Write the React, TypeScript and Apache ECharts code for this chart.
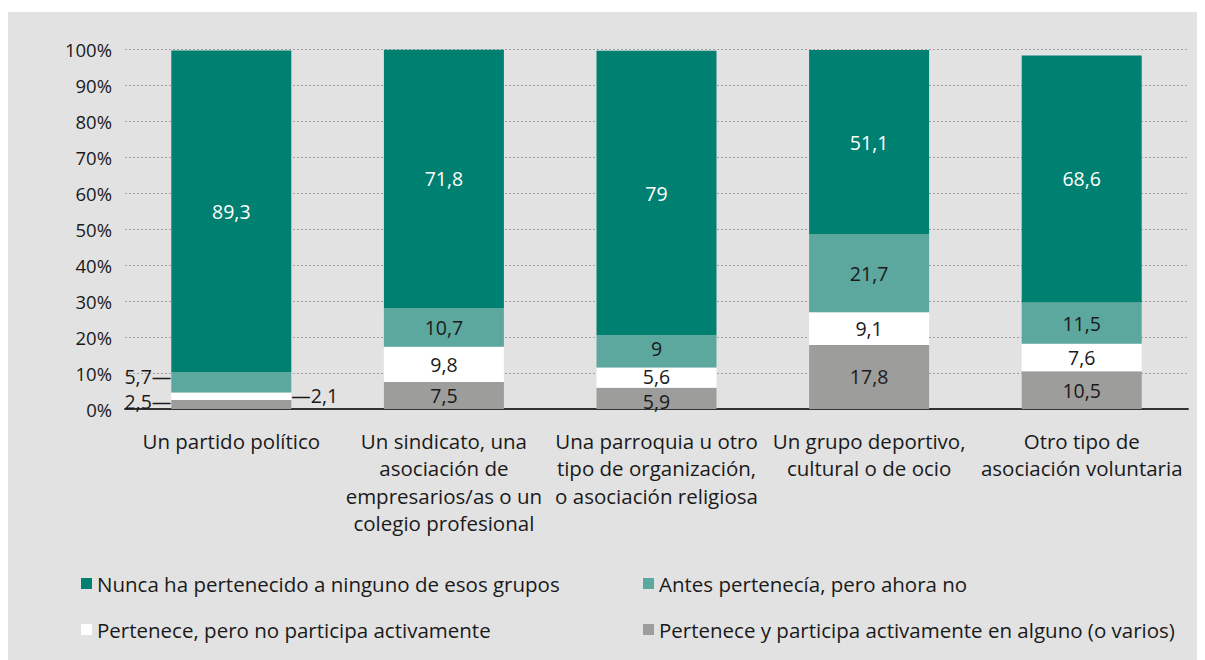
import React, { useEffect, useRef } from "react";
import * as echarts from "echarts";

const categories = [
  "Un partido político",
  "Un sindicato, una\nasociación de\nempresarios/as o un\ncolegio profesional",
  "Una parroquia u otro\ntipo de organización,\no asociación religiosa",
  "Un grupo deportivo,\ncultural o de ocio",
  "Otro tipo de\nasociación voluntaria",
];
const seriesNames = [
  "Pertenece y participa activamente en alguno (o varios)",
  "Pertenece, pero no participa activamente",
  "Antes pertenecía, pero ahora no",
  "Nunca ha pertenecido a ninguno de esos grupos",
];
const participa = [2.5, 7.5, 5.9, 17.8, 10.5];
const noParticipa = [2.1, 9.8, 5.6, 9.1, 7.6];
const antes = [5.7, 10.7, 9, 21.7, 11.5];
const nunca = [89.3, 71.8, 79, 51.1, 68.6];
const yTicks = [0, 10, 20, 30, 40, 50, 60, 70, 80, 90, 100];

const colors = ["#9d9d9c", "#ffffff", "#5ca89f", "#008070"];
const FONT = "Open Sans";

const fmt = (v: number) => String(v).replace(".", ",");

export default function App() {
  const ref = useRef<HTMLDivElement>(null);
  useEffect(() => {
    document.documentElement.style.overflow = "hidden";
    document.body.style.overflow = "hidden";
    const chart = echarts.init(ref.current!, null, { renderer: "svg" });
    const dataSets = [participa, noParticipa, antes, nunca];
    const series = dataSets.map((arr, si) => ({
      type: "bar",
      name: seriesNames[si],
      stack: "total",
      barWidth: 120,
      itemStyle: { color: colors[si] },
      label: {
        show: true,
        position: "inside",
        fontFamily: FONT,
        fontSize: 19.5,
        lineHeight: 14,
        color: si === 3 ? "#ffffff" : "#1a1a1a",
        formatter: (p: any) => fmt(p.value),
      },
      data: arr.map((v, i) => {
        if (i === 0 && si < 3) {
          const right = si === 1;
          return {
            value: v,
            label: {
              position: right ? "right" : "left",
              distance: 0,
              verticalAlign: "middle",
              offset: si === 0 ? [0, -3] : si === 2 ? [0, -6] : [0, -1],
              formatter: (p: any) => (right ? "—" + fmt(p.value) : fmt(p.value) + "—"),
            },
          };
        }
        if (i === 2 && si === 2) {
          return { value: v, label: { offset: [0, -3] } };
        }
        if (i === 2 && si === 1) {
          return { value: v, label: { offset: [0, -1] } };
        }
        if (i === 2 && si === 0) {
          return { value: v, label: { offset: [0, 3] } };
        }
        return v;
      }),
    }));
    const legendPos = [
      { name: seriesNames[3], left: 68, top: 556 },
      { name: seriesNames[2], left: 630, top: 556 },
      { name: seriesNames[1], left: 68, top: 602 },
      { name: seriesNames[0], left: 630, top: 602 },
    ];
    chart.setOption({
      animation: false,
      backgroundColor: "#e2e2e2",
      grid: { left: 117, right: 17, top: 37, bottom: 251, containLabel: false },
      legend: legendPos.map((l) => ({
        data: [l.name],
        left: l.left,
        top: l.top,
        itemWidth: 11,
        itemHeight: 11,
        itemGap: 6,
        icon: "rect",
        selectedMode: false,
        textStyle: { fontFamily: FONT, fontSize: 20.5, color: "#1a1a1a" },
      })),
      xAxis: {
        type: "category",
        data: categories,
        axisLine: { lineStyle: { color: "#333", width: 2 } },
        axisTick: { show: false },
        axisLabel: {
          interval: 0,
          fontFamily: FONT,
          fontSize: 20.5,
          lineHeight: 27.5,
          color: "#1a1a1a",
          margin: 18,
        },
      },
      yAxis: {
        type: "value",
        min: 0,
        max: 100,
        interval: 10,
        axisLine: { show: false },
        axisTick: { show: false },
        splitLine: { lineStyle: { type: [2, 2], color: "#a0a0a0", width: 1 } },
        axisLabel: {
          fontFamily: FONT,
          fontSize: 18.5,
          color: "#1a1a1a",
          margin: 13,
          formatter: (v: number) => (yTicks.includes(v) ? v + "%" : ""),
        },
      },
      series,
    });
    return () => chart.dispose();
  }, []);
  return (
    <div
      ref={ref}
      style={{ width: 1197, height: 648, marginTop: 4, background: "#e2e2e2" }}
    />
  );
}
